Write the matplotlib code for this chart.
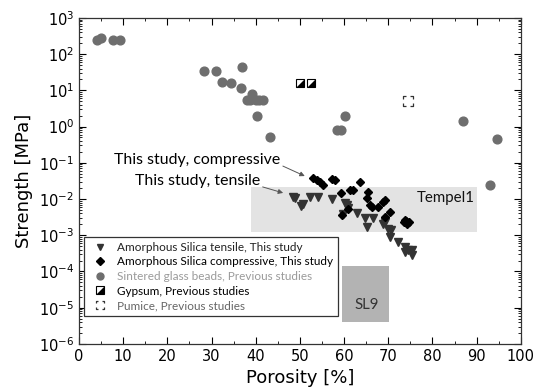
import matplotlib
matplotlib.use("Agg")
import matplotlib.pyplot as plt
from matplotlib.path import Path
from matplotlib.patches import Rectangle
from matplotlib.legend_handler import HandlerTuple
from matplotlib.lines import Line2D
import numpy as np

# ---- data ----
glass_x = [4.1, 4.9, 7.6, 9.3, 28.3, 30.9, 32.4, 34.3, 36.6, 37.0, 39.1, 38.0, 38.8, 40.0, 40.8, 41.6,
           40.3, 43.2, 60.2, 58.4, 59.2, 86.9, 94.5, 93.1]
glass_y = [245, 275, 245, 245, 34, 34, 17.4, 15.7, 11.9, 43, 7.9, 5.5, 5.5, 5.5, 5.5, 5.5,
           1.9, 0.53, 2.0, 0.8, 0.8, 1.43, 0.46, 0.024]

comp_x = [53.0, 53.8, 54.5, 55.3, 57.2, 57.9, 63.6, 59.4, 61.3, 62.1, 65.5, 65.1, 66.2, 67.7,
          69.2, 68.8, 69.2, 65.8, 70.4, 73.6, 74.1, 74.6, 73.8, 74.3, 59.6, 60.8]
comp_y = [0.037, 0.0335, 0.029, 0.0244, 0.035, 0.0335, 0.030, 0.0144, 0.0178, 0.0178, 0.016,
          0.0104, 0.0062, 0.0062, 0.0093, 0.0081, 0.0032, 0.0068, 0.0045, 0.0023, 0.0024,
          0.0023, 0.0026, 0.0021, 0.0036, 0.0052]

tens_x = [48.5, 48.9, 50.2, 50.7, 52.3, 54.0, 57.2, 60.2, 60.6, 60.8, 59.7, 63.0, 64.7, 66.6,
          65.1, 69.2, 70.0, 70.7, 68.8, 70.4, 72.2, 73.8, 74.5, 73.8, 75.3, 75.3]
tens_y = [0.0115, 0.0104, 0.0066, 0.0071, 0.0112, 0.0115, 0.0098, 0.0076, 0.0067, 0.0057,
          0.0038, 0.0040, 0.0029, 0.0029, 0.0017, 0.0023, 0.0015, 0.0014, 0.0021, 0.00091,
          0.00066, 0.00048, 0.00039, 0.00035, 0.00028, 0.00039]

gyps_x = [50.0, 52.4]
gyps_y = [15.7, 15.7]

pum_x = [74.4]
pum_y = [5.0]

tempel_x = [39.0, 90.0]
tempel_y = [0.0012, 0.021]
sl9_x = [59.6, 70.2]
sl9_y = [4.0e-6, 1.4e-4]

legend_labels = ["Amorphous Silica tensile, This study",
                 "Amorphous Silica compressive, This study",
                 "Sintered glass beads, Previous studies",
                 "Gypsum, Previous studies",
                 "Pumice, Previous studies"]

# ---- figure ----
fig = plt.figure(figsize=(5.37, 3.89), dpi=100)
ax = fig.add_axes([0.147, 0.116, 0.823, 0.838])

ax.add_patch(Rectangle((tempel_x[0], tempel_y[0]), tempel_x[1] - tempel_x[0],
                       tempel_y[1] - tempel_y[0], facecolor="#e3e3e3", edgecolor="none", zorder=0))
ax.add_patch(Rectangle((sl9_x[0], sl9_y[0]), sl9_x[1] - sl9_x[0],
                       sl9_y[1] - sl9_y[0], facecolor="#b3b3b3", edgecolor="none", zorder=0))
ax.text(89.6, 0.0107, "Tempel1", ha="right", va="center", fontsize=10.8, color="#111",
        family="Lato")
ax.text(65.0, 1.17e-5, "SL9", ha="center", va="center", fontsize=10.8, color="#333",
        family="Lato")

gcol = "#6e6e6e"
ax.plot(glass_x, glass_y, "o", ms=6.3, color=gcol, mec=gcol, ls="none", zorder=3)
ax.plot(tens_x, tens_y, "v", ms=5.5, color="#333333", ls="none", zorder=3)
ax.plot(comp_x, comp_y, "D", ms=4.5, color="#000000", ls="none", zorder=4)

tri = Path([(1, -1), (1, 1), (-1, -1), (1, -1)],
           [Path.MOVETO, Path.LINETO, Path.LINETO, Path.CLOSEPOLY])
ax.plot(gyps_x, gyps_y, "s", ms=6, mfc="white", mec="black", mew=0.8, ls="none", zorder=3)
ax.plot(gyps_x, gyps_y, marker=tri, ms=6, color="black", mew=0, ls="none", zorder=4)

a = 0.5
verts, codes = [], []
for cx, cy in [(-1, -1), (1, -1), (1, 1), (-1, 1)]:
    verts += [(cx, cy - cy * a), (cx, cy), (cx - cx * a, cy)]
    codes += [Path.MOVETO, Path.LINETO, Path.LINETO]
corners = Path(verts, codes)
ax.plot(pum_x, pum_y, "s", ms=7, mfc="white", mec="none", ls="none", zorder=3)
ax.plot(pum_x, pum_y, marker=corners, ms=7, mfc="none", mec="#333333", mew=0.9, ls="none", zorder=4)

ax.set_yscale("log")
ax.set_xlim(0, 100)
ax.set_ylim(1e-6, 1e3)
ax.set_xticks(range(0, 101, 10))
ax.set_xticks(range(5, 100, 10), minor=True)
ax.set_yticks([10.0 ** k for k in range(-6, 4)])
ax.tick_params(which="both", direction="in", top=True, right=True, labelsize=10.5)
ax.tick_params(which="major", length=5)
ax.tick_params(which="minor", length=2.5)
for s in ax.spines.values():
    s.set_linewidth(0.9)
    s.set_color("#333")
ax.set_xlabel("Porosity [%]", fontsize=13)
ax.set_ylabel("Strength [MPa]", fontsize=13)

ax.annotate("This study, compressive", xy=(51.1, 0.043), xytext=(7.9, 0.12),
            fontsize=11.4, ha="left", va="center", family="Lato",
            arrowprops=dict(arrowstyle="-|>", color="#555", lw=0.7, mutation_scale=7,
                            shrinkA=0, shrinkB=0, relpos=(1.0, 0.15)),
            zorder=5)
ax.annotate("This study, tensile", xy=(46.2, 0.0147), xytext=(12.6, 0.031),
            fontsize=11.4, ha="left", va="center", family="Lato",
            arrowprops=dict(arrowstyle="-|>", color="#555", lw=0.7, mutation_scale=7,
                            shrinkA=0, shrinkB=0, relpos=(1.0, 0.15)),
            zorder=5)

h_t = Line2D([], [], marker="v", ms=5, color="#333333", ls="none")
h_c = Line2D([], [], marker="D", ms=4, color="black", ls="none")
h_g = Line2D([], [], marker="o", ms=5, color=gcol, ls="none")
h_gy1 = Line2D([], [], marker="s", ms=5.5, mfc="white", mec="black", mew=0.8, ls="none")
h_gy2 = Line2D([], [], marker=tri, ms=5.5, color="black", mew=0, ls="none")
h_p = Line2D([], [], marker=corners, ms=6, mfc="none", mec="#333333", mew=0.9, ls="none")
leg = ax.legend([h_t, h_c, h_g, (h_gy1, h_gy2), h_p], legend_labels,
                handler_map={tuple: HandlerTuple(ndivide=1, pad=0)},
                loc="upper left", bbox_to_anchor=(0.012, 0.329), borderaxespad=0,
                prop={"family": "Lato", "size": 8.5},
                frameon=True, fancybox=False, edgecolor="#333", framealpha=1,
                handlelength=1.7, handletextpad=0.6, labelspacing=0.3, borderpad=0.45)
leg.get_frame().set_linewidth(0.9)
cols = ["#222222", "#000000", "#9a9a9a", "#000000", "#666666"]
for t, c in zip(leg.get_texts(), cols):
    t.set_color(c)

fig.savefig("out.png", dpi=100)
